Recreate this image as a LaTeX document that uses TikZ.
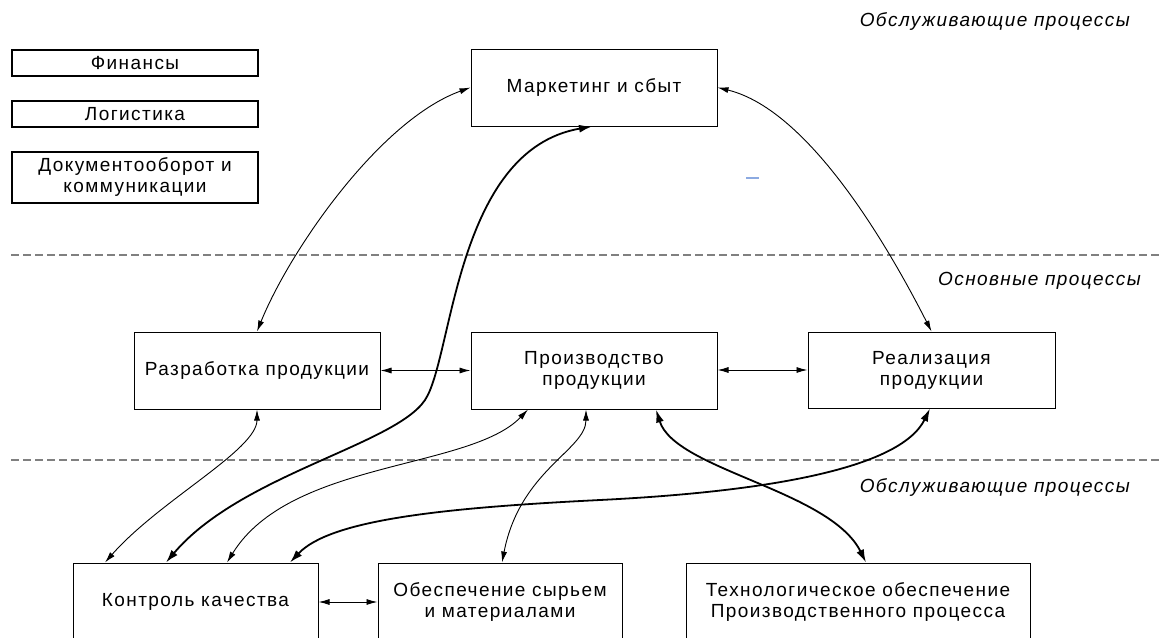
\documentclass[tikz,border=0pt]{standalone}
\usepackage{fontspec}
\setmainfont{Liberation Sans}[LetterSpace=7.5]
\usetikzlibrary{arrows.meta,calc}
\definecolor{sepgray}{RGB}{128,128,128}
\definecolor{markblue}{RGB}{140,170,225}
\begin{document}
\begin{tikzpicture}[x=1pt,y=-1pt,
  every node/.style={font=\fontsize{19}{21}\selectfont},
  proc/.style={draw, line width=1pt, inner sep=0pt, align=center},
  side/.style={draw, line width=2pt, inner sep=0pt, align=center, minimum width=246pt},
  zone/.style={font=\fontsize{19}{21}\selectfont\itshape, anchor=east, inner sep=0pt},
  sep/.style={draw=sepgray, line width=1.3pt, dash pattern=on 8pt off 4pt},
  link/.style={line width=0.9pt, {Latex[length=11pt,width=6pt]}-{Latex[length=11pt,width=6pt]}},
  biglink/.style={line width=1.8pt, {Latex[length=13pt,width=8pt]}-{Latex[length=13pt,width=8pt]}}]
\useasboundingbox (0,0) rectangle (1166,637);
\clip (0,0) rectangle (1166,637);

% zone separators
\draw[sep] (11,255) -- (1162,255);
\draw[sep] (11,460) -- (1162,460);

% zone captions
\node[zone] (zsup1) at (1130,22) {Обслуживающие процессы};
\node[zone] (zmain) at (1141,281) {Основные процессы};
\node[zone] (zsup2) at (1130,487) {Обслуживающие процессы};

% supporting functions, upper left
\node[side, minimum height=26pt] (fin) at (135,63) {Финансы};
\node[side, minimum height=26pt] (log) at (135,114) {Логистика};
\node[side, minimum height=51pt] (doc) at (135,177.5) {Документооборот и\\коммуникации};

% processes
\node[proc, minimum width=246pt, minimum height=77pt] (mk) at (594,87.5) {Маркетинг и сбыт};
\node[proc, minimum width=246pt, minimum height=77pt] (raz) at (257,370.5) {Разработка продукции};
\node[proc, minimum width=246pt, minimum height=77pt] (pro) at (594,370.5) {Производство\\продукции};
\node[proc, minimum width=247pt, minimum height=76pt] (real) at (931.5,370) {Реализация\\продукции};
\node[proc, minimum width=245pt, minimum height=78pt] (kon) at (195.5,602) {Контроль качества};
\node[proc, minimum width=244pt, minimum height=78pt] (obe) at (500,602) {Обеспечение сырьем\\и материалами};
\node[proc, minimum width=344pt, minimum height=78pt] (tech) at (858,602) {Технологическое обеспечение\\Производственного процесса};

% small mark
\draw[markblue, line width=1.5pt] (746,178) -- (759,178);

% links between the main processes
\draw[link] (raz.east) -- (pro.west);
\draw[link] ($(pro.east)+(0,-0.5)$) -- ($(real.west)$);
\draw[link] (kon.east) -- (obe.west);

% links from marketing
\draw[link] (mk.west) .. controls (380,120) and (290,250) .. (raz.north);
\draw[link] (mk.east) .. controls (810,110) and (890,250) .. (real.north);
\draw[biglink] ($(mk.south)+(-2,0)$) .. controls (455,150) and (453,358) .. (425,400)
  .. controls (395,445) and (240,475) .. ($(kon.north)+(-29.5,0)$);

% links to the supporting processes
\draw[link] (raz.south) .. controls (257,450) and (160,500) .. ($(kon.north)+(-90.5,0)$);
\draw[link] ($(pro.south)+(-66,0)$) .. controls (470,470) and (290,460) .. ($(kon.north)+(31.5,0)$);
\draw[link] ($(pro.south)+(-8,0)$) .. controls (586,450) and (520,470) .. ($(obe.north)+(2,0)$);
\draw[biglink] ($(pro.south)+(62,0)$) .. controls (675,470) and (830,490) .. ($(tech.north)+(8,0)$);
\draw[biglink] ($(real.south)+(-1.5,0)$) .. controls (900,470) and (760,492) .. (600,500)
  .. controls (440,508) and (330,520) .. ($(kon.north)+(94.5,0)$);
\end{tikzpicture}
\end{document}
